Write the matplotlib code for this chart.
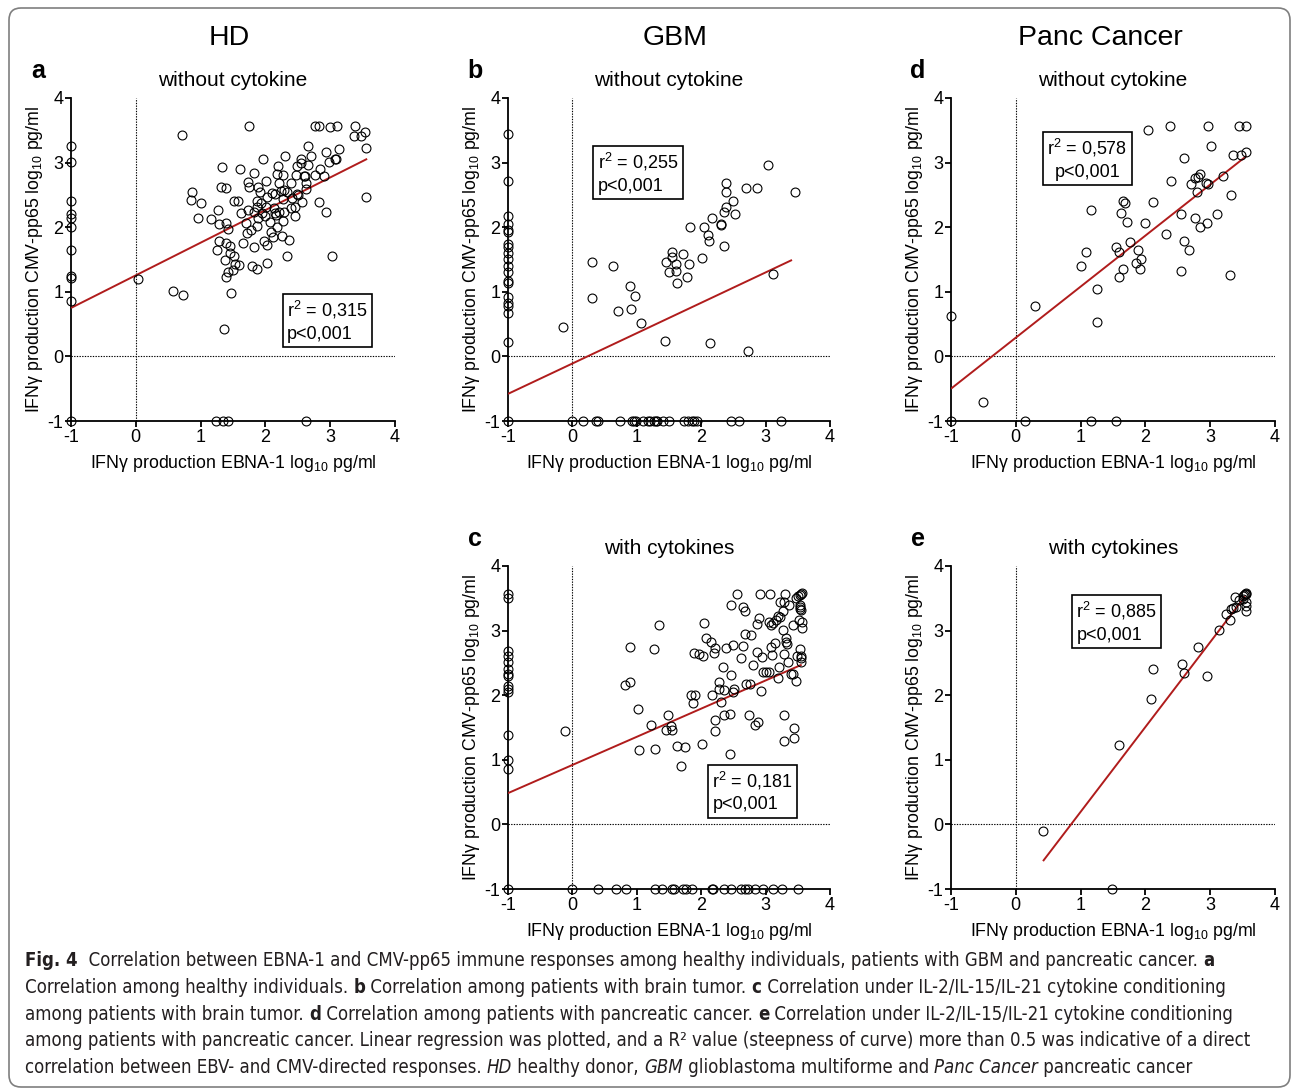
import numpy as np
import matplotlib
matplotlib.use("Agg")
import matplotlib.pyplot as plt
from matplotlib.patches import FancyBboxPatch

# ---------------- data ----------------
# a: HD, without cytokine
hd_x = [-1, -1, -1, -1, -1, -1, -1, -1, -1, -1,
        -1, 1.23, 1.35, 1.43, 2.63, 0.04, 0.71, 0.58, 0.73, 1.75,
        1.36, 1.47, 3.03, 3.55, 3.55, 3.53, 3.38, 3.37, 3.47, 2.76,
        2.82, 3.00, 3.10, 2.93, 3.14, 3.07, 3.09, 2.98, 2.90, 2.84,
        2.93, 2.82, 2.65, 2.71, 2.55, 2.55, 2.49, 2.66, 2.59, 2.61,
        2.76, 2.63, 2.47, 2.39, 2.30, 2.19, 1.96, 1.61, 1.33, 1.32,
        1.39, 0.86, 0.85, 1.01, 0.96, 1.16, 1.27, 1.29, 1.39, 1.42,
        1.51, 1.57, 1.28, 1.25, 1.39, 1.46, 1.46, 1.52, 1.38, 1.53,
        1.43, 1.50, 1.39, 1.59, 1.65, 1.73, 1.75, 1.83, 1.63, 1.73,
        1.82, 1.70, 1.71, 1.78, 1.89, 1.91, 2.01, 2.02, 1.87, 1.87,
        1.93, 2.01, 2.00, 1.94, 1.89, 1.87, 1.83, 1.79, 1.87, 1.98,
        2.03, 2.03, 2.07, 2.08, 2.12, 2.18, 2.16, 2.14, 2.15, 2.10,
        2.18, 2.27, 2.21, 2.24, 2.28, 2.27, 2.28, 2.27, 2.25, 2.37,
        2.33, 2.40, 2.46, 2.46, 2.41, 2.51, 2.34, 2.56, 2.49, 2.15,
        2.21, 2.62]
hd_y = [3.25, 3.01, 2.41, 2.21, 2.14, 2.00, 1.64, 1.25, 1.21, 0.85,
        -1, -1, -1, -1, -1, 1.20, 3.43, 1.02, 0.95, 3.57,
        0.43, 0.98, 1.56, 2.46, 3.23, 3.48, 3.57, 3.41, 3.41, 3.57,
        3.57, 3.55, 3.57, 3.17, 3.21, 3.06, 3.06, 3.01, 2.79, 2.90,
        2.24, 2.39, 3.25, 3.10, 3.05, 3.00, 2.94, 2.96, 2.79, 2.79,
        2.81, 2.68, 2.81, 2.69, 3.10, 2.95, 3.05, 2.90, 2.93, 2.62,
        2.60, 2.54, 2.42, 2.37, 2.14, 2.13, 2.27, 2.05, 2.06, 1.97,
        2.40, 2.40, 1.79, 1.64, 1.76, 1.71, 1.60, 1.56, 1.49, 1.43,
        1.30, 1.34, 1.23, 1.41, 1.75, 2.70, 2.62, 2.84, 2.22, 2.27,
        2.24, 2.06, 1.91, 1.96, 2.63, 2.55, 2.72, 2.47, 2.40, 2.32,
        2.37, 2.32, 2.17, 2.22, 2.14, 2.02, 1.70, 1.40, 1.36, 1.79,
        1.73, 1.45, 2.08, 1.93, 1.85, 2.01, 2.19, 2.30, 2.51, 2.53,
        2.82, 2.81, 2.68, 2.56, 2.58, 2.43, 2.24, 2.09, 1.86, 1.80,
        1.56, 2.30, 2.32, 2.18, 2.45, 2.50, 2.55, 2.39, 2.51, 2.22,
        2.24, 2.59]

# b: GBM, without cytokine
gbm_x = [-1, -1, -1, -1, -1, -1, -1, -1, -1, -1,
         -1, -1, -1, -1, -1, -1, -1, -1, -1, -1,
         0.00, 0.17, 0.36, 0.39, 0.74, 0.92, 0.96, 0.98, 1.10, 1.17,
         1.20, 1.27, 1.30, 1.32, 1.41, 1.50, 1.74, 1.79, 1.86, 1.89,
         1.94, 2.46, 2.59, 3.24, -0.14, 0.30, 0.30, 0.63, 0.71, 0.89,
         0.91, 0.97, 1.06, 1.44, 1.45, 1.50, 1.54, 1.55, 1.61, 1.61,
         1.63, 1.72, 1.78, 1.81, 1.82, 2.01, 2.04, 2.10, 2.12, 2.16,
         2.13, 2.30, 2.31, 2.35, 2.35, 2.38, 2.39, 2.38, 2.49, 2.53,
         2.69, 2.87, 3.03, 3.45, 2.72, 3.11]
gbm_y = [3.45, 2.72, 2.17, 2.05, 1.96, 1.92, 1.74, 1.70, 1.60, 1.51,
         1.40, 1.30, 1.16, 1.14, 0.92, 0.82, 0.78, 0.67, 0.23, -1,
         -1, -1, -1, -1, -1, -1, -1, -1, -1, -1,
         -1, -1, -1, -1, -1, -1, -1, -1, -1, -1,
         -1, -1, -1, -1, 0.46, 1.46, 0.90, 1.40, 0.71, 1.09,
         0.73, 0.93, 0.51, 0.24, 1.46, 1.30, 1.54, 1.62, 1.43, 1.32,
         1.13, 1.58, 1.23, 1.43, 2.01, 1.53, 2.00, 1.88, 1.78, 2.14,
         0.20, 2.05, 2.03, 1.71, 2.24, 2.32, 2.54, 2.68, 2.41, 2.21,
         2.60, 2.60, 2.97, 2.54, 0.08, 1.28]

# c: GBM, with cytokines
gbm_cyt_x = [-1, -1, -1, -1, -1, -1, -1, -1, -1, -1,
             -1, -1, -1, -1, -1,
             0.00, 0.39, 0.68, 0.84, 1.29, 1.39, 1.55, 1.58, 1.71, 1.77,
             1.86, 2.16, 2.19, 2.35, 2.46, 2.62, 2.68, 2.72, 2.83, 2.96,
             3.11, 3.25, 3.51,
             -0.11, 0.82, 0.90, 0.90, 1.02, 1.03, 1.22, 1.26, 1.29, 1.34,
             1.45, 1.49, 1.53, 1.54, 1.62, 1.68, 1.75, 1.89, 1.96, 2.03,
             1.84, 1.91, 1.88, 2.02, 2.04, 2.08, 2.15, 2.21, 2.20, 2.16,
             2.21, 2.21, 2.27, 2.28, 2.30, 2.36, 2.34, 2.35, 2.39, 2.44,
             2.44, 2.46, 2.47, 2.49, 2.51, 2.49, 2.56, 2.62, 2.65, 2.65,
             2.68, 2.68, 2.69, 2.76, 2.74, 2.78, 2.80, 2.83, 2.88, 2.86,
             2.89, 2.86, 2.92, 2.94, 2.93, 2.96, 3.00, 3.05, 3.06, 3.09,
             3.11, 3.07, 3.09, 3.10, 3.16, 3.20, 3.23, 3.15, 3.19, 3.21,
             3.23, 3.28, 3.27, 3.27, 3.28, 3.28, 3.28, 3.30, 3.31, 3.32,
             3.33, 3.35, 3.37, 3.40, 3.42, 3.43, 3.44, 3.44, 3.47, 3.47,
             3.50, 3.53, 3.55, 3.57, 3.49, 3.52, 3.53, 3.54, 3.54, 3.55,
             3.54, 3.55, 3.55, 3.55, 3.56, 3.56]
gbm_cyt_y = [3.57, 3.50, 2.68, 2.61, 2.51, 2.40, 2.33, 2.29, 2.14, 2.09,
             2.05, 1.38, 0.99, 0.86, -1,
             -1, -1, -1, -1, -1, -1, -1, -1, -1, -1,
             -1, -1, -1, -1, -1, -1, -1, -1, -1, -1,
             -1, -1, -1,
             1.45, 2.16, 2.20, 2.74, 1.78, 1.15, 1.54, 2.72, 1.16, 3.08,
             1.46, 1.69, 1.53, 1.46, 1.21, 0.91, 1.20, 2.65, 2.64, 2.60,
             2.01, 2.01, 1.88, 1.24, 3.12, 2.89, 2.82, 2.73, 2.65, 2.00,
             1.62, 1.45, 2.20, 2.10, 1.90, 2.08, 2.44, 1.69, 2.73, 1.09,
             1.71, 3.40, 2.31, 2.78, 2.09, 2.05, 3.57, 2.58, 2.76, 3.36,
             3.30, 2.95, 2.17, 2.18, 1.69, 2.93, 2.47, 1.54, 1.58, 3.10,
             3.20, 2.67, 3.57, 2.59, 2.06, 2.36, 2.36, 2.36, 3.14, 3.09,
             3.12, 3.57, 2.74, 2.63, 3.16, 3.23, 3.21, 2.81, 2.27, 2.44,
             3.44, 3.44, 3.30, 3.01, 2.64, 1.69, 1.29, 3.56, 2.88, 2.83,
             2.79, 2.52, 3.40, 2.33, 2.33, 3.08, 1.49, 1.34, 2.22, 3.50,
             3.53, 3.55, 3.57, 3.58, 2.61, 3.17, 3.40, 3.37, 3.33, 3.32,
             2.72, 2.60, 2.57, 2.52, 3.04, 3.14]

# d: Panc Cancer, without cytokine
panc_x = [-1, -1, -0.50, 0.14, 0.30, 1.16, 1.55, 1.00, 1.08, 1.16,
          1.26, 1.26, 1.54, 1.59, 1.59, 1.65, 1.62, 1.65, 1.69, 1.72,
          1.76, 1.85, 1.88, 1.93, 1.92, 2.00, 2.04, 2.11, 2.32, 2.38,
          2.40, 2.55, 2.55, 2.60, 2.59, 2.68, 2.71, 2.77, 2.81, 2.85,
          2.77, 2.79, 2.84, 2.93, 2.96, 2.95, 2.97, 3.01, 3.10, 3.19,
          3.30, 3.32, 3.35, 3.44, 3.56, 3.47, 3.56]
panc_y = [0.62, -1, -0.71, -1, 0.78, -1, -1, 1.40, 1.62, 2.27,
          1.04, 0.53, 1.70, 1.61, 1.23, 1.36, 2.22, 2.41, 2.37, 2.08,
          1.77, 1.45, 1.65, 1.51, 1.35, 2.06, 3.50, 2.39, 1.89, 3.57,
          2.72, 2.20, 1.32, 3.07, 1.79, 1.64, 2.67, 2.76, 2.77, 2.82,
          2.14, 2.54, 2.01, 2.69, 2.67, 2.06, 3.57, 3.26, 2.21, 2.80,
          1.26, 2.50, 3.12, 3.57, 3.57, 3.11, 3.16]

# e: Panc Cancer, with cytokines
panc_cyt_x = [0.42, 1.49, 1.59, 2.09, 2.11, 2.56, 2.60, 2.81, 2.95, 3.13,
              3.24, 3.30, 3.32, 3.35, 3.40, 3.39, 3.45, 3.50, 3.52, 3.54,
              3.55, 3.55, 3.56, 3.56, 3.56, 3.51]
panc_cyt_y = [-0.10, -1, 1.23, 1.94, 2.40, 2.48, 2.34, 2.74, 2.29, 3.01,
              3.25, 3.17, 3.33, 3.35, 3.37, 3.52, 3.48, 3.53, 3.55, 3.57,
              3.58, 3.56, 3.45, 3.38, 3.31, 3.49]

# linear regression (slope, intercept, x range) and r2 per panel
fit_slope = [0.505, 0.47, 0.436, 0.79, 1.314]
fit_icpt = [1.255, -0.11, 0.92, 0.29, -1.12]
fit_xmin = [-1, -1, -1, -1, 0.42]
fit_xmax = [3.57, 3.41, 3.56, 3.56, 3.54]
r2_text = ["0,315", "0,255", "0,181", "0,578", "0,885"]
p_text = "p<0,001"

col_titles = ["HD", "GBM", "Panc Cancer"]
panel_letters = ["a", "b", "c", "d", "e"]
panel_titles = ["without cytokine", "without cytokine", "with cytokines",
                "without cytokine", "with cytokines"]
ticks = [-1, 0, 1, 2, 3, 4]

# ---------------- figure ----------------
W, H = 1293, 1088
plt.rcParams['font.family'] = ['Liberation Sans', 'DejaVu Sans']
plt.rcParams['mathtext.fontset'] = 'custom'
plt.rcParams['mathtext.rm'] = 'Liberation Sans'
plt.rcParams['mathtext.it'] = 'Liberation Sans:italic'
plt.rcParams['mathtext.bf'] = 'Liberation Sans:bold'
plt.rcParams['axes.unicode_minus'] = False

fig = plt.figure(figsize=(W / 100, H / 100), dpi=100)


def px_rect(left, top, right, bottom):
    return [left / W, 1 - bottom / H, (right - left) / W, (bottom - top) / H]


# axes boxes in pixels (left, top, right, bottom)
boxes = [(71, 98, 395, 421), (508, 98, 830, 421), (508, 566, 830, 889),
         (951, 98, 1275, 421), (951, 566, 1275, 889)]
# r2 box anchor (axes fraction), multialignment
stat_pos = [(0.667, 0.378, 'left'), (0.278, 0.836, 'left'), (0.635, 0.369, 'left'),
            (0.297, 0.879, 'center'), (0.387, 0.895, 'left')]
series = [(hd_x, hd_y), (gbm_x, gbm_y), (gbm_cyt_x, gbm_cyt_y),
          (panc_x, panc_y), (panc_cyt_x, panc_cyt_y)]

xlab = r'IFN$\mathrm{\gamma}$ production EBNA-1 log$_{10}$ pg/ml'
ylab = r'IFN$\mathrm{\gamma}$ production CMV-pp65 log$_{10}$ pg/ml'

for i, (l, t, r, b) in enumerate(boxes):
    ax = fig.add_axes(px_rect(l, t, r, b))
    ax.set_xlim(-1, 4)
    ax.set_ylim(-1, 4)
    ax.axvline(0, color='k', ls=(0, (1.2, 1.2)), lw=0.8, zorder=1)
    ax.axhline(0, color='k', ls=(0, (1.2, 1.2)), lw=0.8, zorder=1)

    xs, ys = series[i]
    ax.plot(xs, ys, 'o', mfc='none', mec='k', ms=6.4, mew=0.8,
            clip_on=False, zorder=4)

    xx = np.array([fit_xmin[i], fit_xmax[i]])
    ax.plot(xx, fit_slope[i] * xx + fit_icpt[i], color='#b01c1c', lw=1.4,
            zorder=3, solid_capstyle='butt')

    for s in ['top', 'right']:
        ax.spines[s].set_visible(False)
    for s in ['left', 'bottom']:
        ax.spines[s].set_linewidth(1.3)
    ax.set_xticks(ticks)
    ax.set_yticks(ticks)
    ax.tick_params(direction='out', length=4, width=1.3, labelsize=13, pad=1.5)

    ax.set_xlabel(xlab, fontsize=12.8)
    ax.set_ylabel(ylab, fontsize=12.8)
    ax.xaxis.set_label_coords(0.5, -0.1)
    ax.yaxis.set_label_coords(-0.08, 0.5)

    sx, sy, al = stat_pos[i]
    ax.text(sx, sy, "r$^{2}$ = " + r2_text[i] + "\n" + p_text, transform=ax.transAxes,
            ha='left', va='top', fontsize=13, multialignment=al, linespacing=1.35,
            bbox=dict(boxstyle='square,pad=0.25', fc='white', ec='k', lw=1.2),
            zorder=5)

    cx = (l + r) / 2
    fig.text(cx / W, 1 - (t - 18) / H, panel_titles[i], ha='center', va='center',
             fontsize=15)
    fig.text((l - 33) / W, 1 - (t - 27) / H, panel_letters[i], ha='center',
             va='center', fontsize=18, fontweight='bold')

col_x = [229, 675, 1100]
for name, cx in zip(col_titles, col_x):
    fig.text(cx / W, 1 - 38 / H, name, ha='center', va='center', fontsize=20.5)

# rounded frame
frame = FancyBboxPatch((9, 1), 1281, H - 9, boxstyle='round,pad=0,rounding_size=12',
                       transform=None, fill=False, ec='#7f7f7f', lw=1.2)
fig.add_artist(frame)

# ---------------- caption ----------------
cap_font = ['DejaVu Sans']
B = dict(fontweight='bold')
I = dict(fontstyle='italic')
N = dict()
cap_lines = [
    [("Fig. 4", B), ("  Correlation between EBNA-1 and CMV-pp65 immune responses among healthy "
                     "individuals, patients with GBM and pancreatic cancer. ", N), ("a", B)],
    [("Correlation among healthy individuals. ", N), ("b", B),
     (" Correlation among patients with brain tumor. ", N), ("c", B),
     (" Correlation under IL-2/IL-15/IL-21 cytokine conditioning", N)],
    [("among patients with brain tumor. ", N), ("d", B),
     (" Correlation among patients with pancreatic cancer. ", N), ("e", B),
     (" Correlation under IL-2/IL-15/IL-21 cytokine conditioning", N)],
    [("among patients with pancreatic cancer. Linear regression was plotted, and a R\u00b2 "
      "value (steepness of curve) more than 0.5 was indicative of a direct", N)],
    [("correlation between EBV- and CMV-directed responses. ", N), ("HD", I),
     (" healthy donor, ", N), ("GBM", I), (" glioblastoma multiforme and ", N),
     ("Panc Cancer", I), (" pancreatic cancer", N)],
]
cap_base = [966, 993, 1020, 1046, 1073]
renderer = fig.canvas.get_renderer()


def draw_line(segs, yb, size, keep=True):
    x = 25
    made = []
    for txt, kw in segs:
        tt = fig.text(x / W, 1 - yb / H, txt, ha='left', va='baseline',
                      fontsize=size, family=cap_font, fontstretch='condensed',
                      color='#231f20', **kw)
        x += tt.get_window_extent(renderer).width
        made.append(tt)
    if not keep:
        for tt in made:
            tt.remove()
    return x - 25


# fit the caption size so that the longest lines end where the reference does
w3 = draw_line(cap_lines[2], cap_base[2], 12.0, keep=False)
w4 = draw_line(cap_lines[3], cap_base[3], 12.0, keep=False)
cap_size = 12.0 * min(1235 / w3, 1230 / w4)
for segs, yb in zip(cap_lines, cap_base):
    draw_line(segs, yb, cap_size)

fig.savefig("out.png", dpi=100)
